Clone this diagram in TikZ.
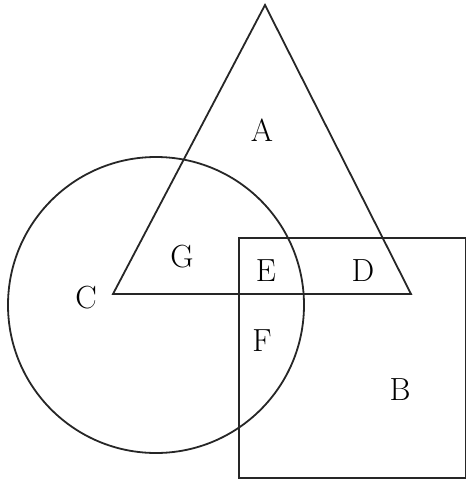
\documentclass[tikz,border=0pt]{standalone}
\usepackage{fontspec}
\begin{document}
\begin{tikzpicture}[x=1pt,y=-1pt,
  shapeline/.style={draw=black!85,line width=1.8pt,line join=miter},
  lbl/.style={font=\fontsize{32}{36}\selectfont\addfontfeatures{FakeBold=1.2},inner sep=0pt,anchor=center}]
\useasboundingbox (0,0) rectangle (466,483);
\coordinate (apex) at (265,5);
\coordinate (bl) at (113,294);
\coordinate (br) at (411,294);
\draw[shapeline] (apex) -- (br) -- (bl) -- cycle;
\node[shapeline,circle,minimum size=296pt,inner sep=0pt] (circ) at (156,305) {};
\node[shapeline,rectangle,minimum width=227pt,minimum height=240pt,inner sep=0pt,anchor=north west] (rect) at (238,237) {};
\node[lbl] (A) at (262,130) {A};
\node[lbl] (G) at (182,257) {G};
\node[lbl] (E) at (266,271) {E};
\node[lbl] (D) at (363,271) {D};
\node[lbl] (C) at (86,298) {C};
\node[lbl] (F) at (262,341) {F};
\node[lbl] (B) at (400,390) {B};
\end{tikzpicture}
\end{document}
